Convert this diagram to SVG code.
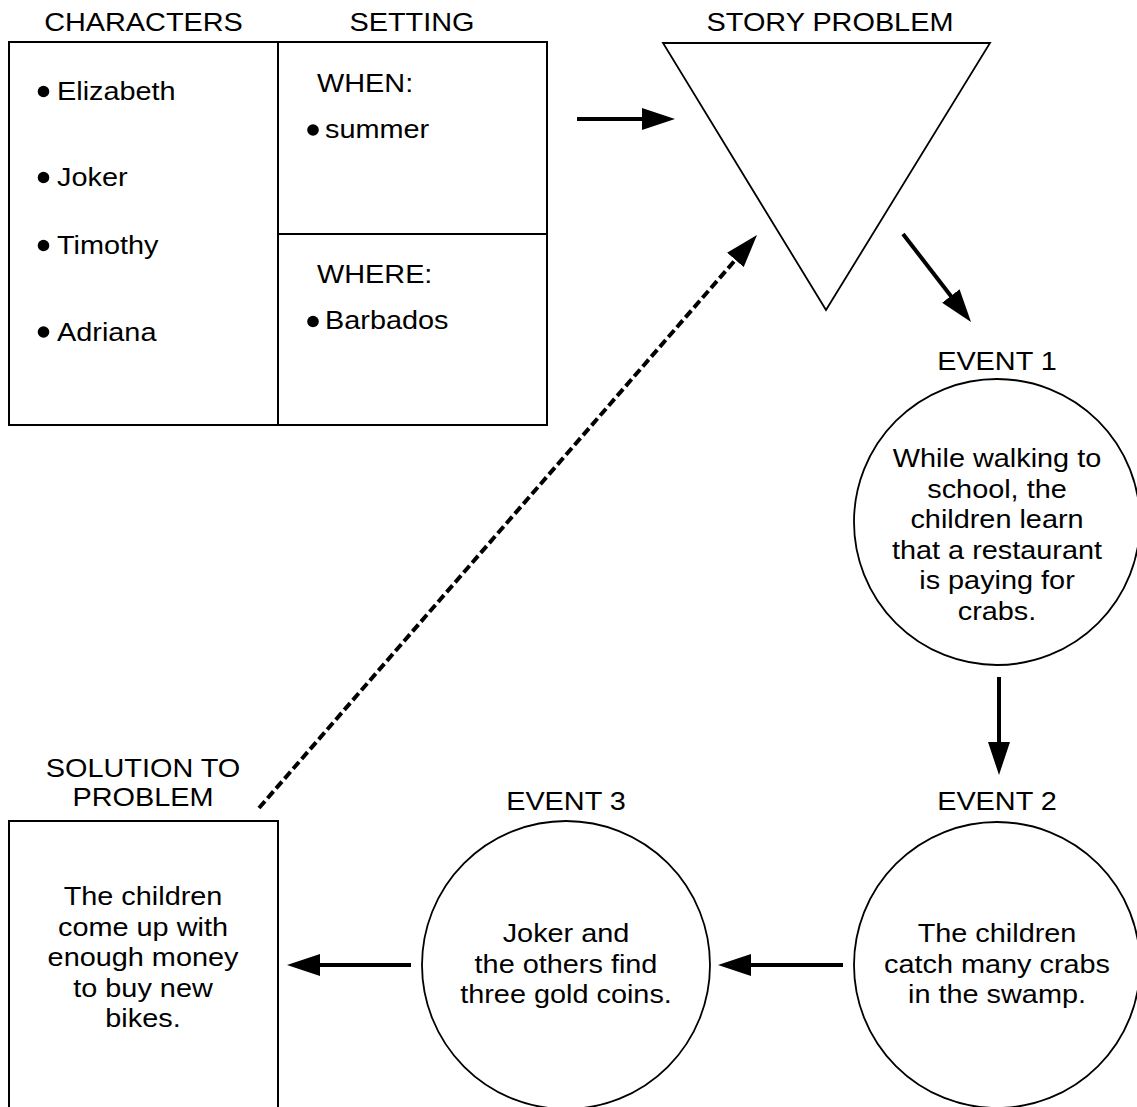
<svg xmlns="http://www.w3.org/2000/svg" width="1137" height="1107" viewBox="0 0 1137 1107">
<style>
text{font-family:"Liberation Sans",Arial,sans-serif;font-size:26px;fill:#000}
.c{text-anchor:middle}
.box{fill:#fff;stroke:#000;stroke-width:2}
.shape{fill:#fff;stroke:#000;stroke-width:1.8}
.arr{stroke:#000;stroke-width:4;fill:none}
.dash{stroke-dasharray:9 4}
.dot{fill:#000}
</style>
<defs>
<marker id="ah" viewBox="0 0 33 22" markerUnits="userSpaceOnUse" markerWidth="33" markerHeight="22" refX="13" refY="11" orient="auto">
<path d="M0,0 L33,11 L0,22 z" fill="#000"/>
</marker>
</defs>
<rect width="1137" height="1107" fill="#fff"/>

<g id="characters">
<rect class="box" x="9" y="42" width="269" height="383"/>
<g transform="translate(143.5 0) scale(1.11 1)"><text class="c" y="31.5">CHARACTERS</text></g>
<circle class="dot" cx="43.5" cy="91.5" r="5.8"/>
<circle class="dot" cx="43.5" cy="177.5" r="5.8"/>
<circle class="dot" cx="43.5" cy="245.5" r="5.8"/>
<circle class="dot" cx="43.5" cy="332" r="5.8"/>
<g transform="translate(57 0) scale(1.11 1)">
<text y="100.5">Elizabeth</text>
<text y="186.5">Joker</text>
<text y="254.5">Timothy</text>
<text y="341">Adriana</text>
</g>
</g>

<g id="setting">
<rect class="box" x="278" y="42" width="269" height="383"/>
<line x1="278" y1="234" x2="547" y2="234" stroke="#000" stroke-width="2"/>
<g transform="translate(412 0) scale(1.11 1)"><text class="c" y="31.5">SETTING</text></g>
<circle class="dot" cx="313" cy="130" r="5.8"/>
<circle class="dot" cx="313" cy="321.5" r="5.8"/>
<g transform="translate(317 0) scale(1.11 1)">
<text y="92.5">WHEN:</text>
<text y="283.5">WHERE:</text>
</g>
<g transform="translate(325 0) scale(1.11 1)">
<text y="138.5">summer</text>
<text y="329.5">Barbados</text>
</g>
</g>

<g id="story-problem">
<polygon class="shape" points="663,43 990,43 826,310"/>
<g transform="translate(830 0) scale(1.11 1)"><text class="c" y="31.5">STORY PROBLEM</text></g>
</g>

<g id="event1">
<circle class="shape" cx="997" cy="522" r="143"/>
<g transform="translate(997 0) scale(1.11 1)">
<text class="c" y="370.5">EVENT 1</text>
<text class="c" y="467.5">While walking to</text>
<text class="c" y="498">school, the</text>
<text class="c" y="528.5">children learn</text>
<text class="c" y="559">that a restaurant</text>
<text class="c" y="589.5">is paying for</text>
<text class="c" y="620">crabs.</text>
</g>
</g>

<g id="event2">
<circle class="shape" cx="997" cy="965" r="143"/>
<g transform="translate(997 0) scale(1.11 1)">
<text class="c" y="810.5">EVENT 2</text>
<text class="c" y="942.5">The children</text>
<text class="c" y="973">catch many crabs</text>
<text class="c" y="1003.5">in the swamp.</text>
</g>
</g>

<g id="event3">
<circle class="shape" cx="566" cy="965" r="144"/>
<g transform="translate(566 0) scale(1.11 1)">
<text class="c" y="810.5">EVENT 3</text>
<text class="c" y="942.5">Joker and</text>
<text class="c" y="973">the others find</text>
<text class="c" y="1003.5">three gold coins.</text>
</g>
</g>

<g id="solution">
<rect class="box" x="9" y="821" width="269" height="300"/>
<g transform="translate(143 0) scale(1.11 1)">
<text class="c" y="777.5">SOLUTION TO</text>
<text class="c" y="806.5">PROBLEM</text>
<text class="c" y="905.5">The children</text>
<text class="c" y="936">come up with</text>
<text class="c" y="966.5">enough money</text>
<text class="c" y="997">to buy new</text>
<text class="c" y="1027.5">bikes.</text>
</g>
</g>

<g id="connectors">
<line class="arr" x1="577" y1="119" x2="655" y2="119" marker-end="url(#ah)"/>
<line class="arr" x1="903" y1="234" x2="958.8" y2="306.2" marker-end="url(#ah)"/>
<line class="arr" x1="999" y1="677" x2="999" y2="755" marker-end="url(#ah)"/>
<line class="arr" x1="843" y1="965" x2="738" y2="965" marker-end="url(#ah)"/>
<line class="arr" x1="411" y1="965" x2="307" y2="965" marker-end="url(#ah)"/>
<line class="arr dash" x1="259" y1="808" x2="743.9" y2="250.1" marker-end="url(#ah)"/>
</g>
</svg>
